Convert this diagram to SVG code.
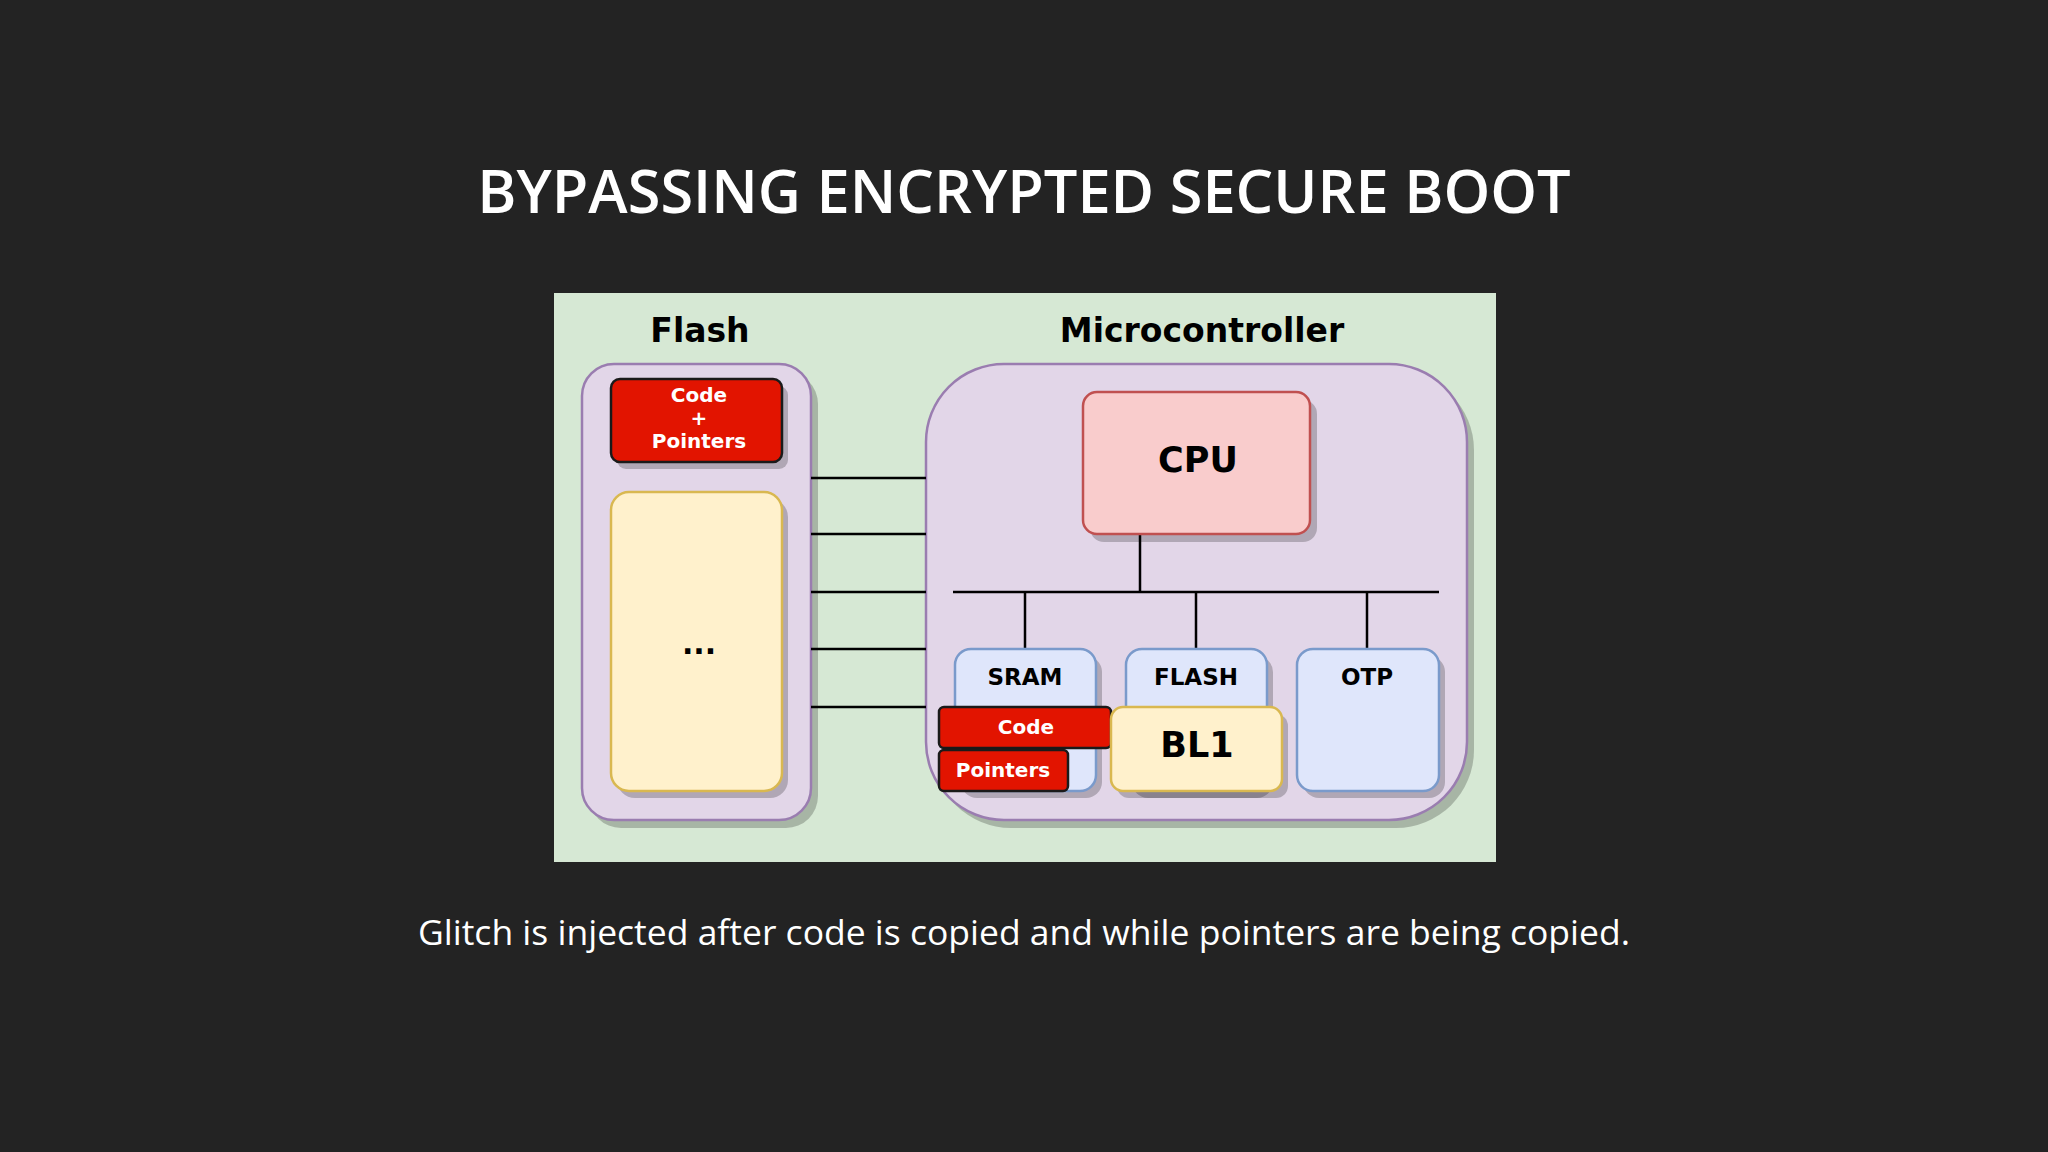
<svg xmlns="http://www.w3.org/2000/svg" width="2048" height="1152" viewBox="0 0 2048 1152">
<style>
.lbl{font-family:"DejaVu Sans",sans-serif;font-weight:bold;text-anchor:middle}
.sh{fill:#000;opacity:0.22}
.ln{stroke:#000;stroke-width:2.5;fill:none}
.red{fill:#e21400;stroke:#1a1a1a;stroke-width:2.5}
.mem{fill:#dfe6fb;stroke:#7a9acb;stroke-width:2.5}
.yel{fill:#fff1cc;stroke:#d9b850;stroke-width:2.5}
</style>
<rect width="2048" height="1152" fill="#232323"/>
<text x="1024" y="213" font-family="Open Sans, sans-serif" font-weight="600" font-size="59.5" fill="#fff" text-anchor="middle">BYPASSING ENCRYPTED SECURE BOOT</text>
<rect x="554" y="293" width="942" height="569" fill="#d6e8d4"/>
<text class="lbl" x="700" y="342" font-size="33">Flash</text>
<text class="lbl" x="1202" y="342" font-size="33">Microcontroller</text>
<g id="flash">
<rect class="sh" x="589" y="372" width="229" height="456" rx="32"/>
<rect x="582" y="364" width="229" height="456" rx="32" fill="#e2d6e8" stroke="#9a7db0" stroke-width="2.5"/>
</g>
<g id="flash-code">
<rect class="sh" x="617" y="386" width="171" height="83" rx="9"/>
<rect class="red" x="611" y="379" width="171" height="83" rx="9"/>
<text class="lbl" x="699" y="402" font-size="20" fill="#fff">Code</text>
<text class="lbl" x="699" y="425" font-size="20" fill="#fff">+</text>
<text class="lbl" x="699" y="448" font-size="20" fill="#fff">Pointers</text>
</g>
<g id="flash-rest">
<rect class="sh" x="617" y="499" width="171" height="299" rx="18"/>
<rect class="yel" x="611" y="492" width="171" height="299" rx="18"/>
<text class="lbl" x="699" y="654" font-size="30">...</text>
</g>
<g id="mcu">
<rect class="sh" x="933" y="372" width="541" height="456" rx="78"/>
<rect x="926" y="364" width="541" height="456" rx="78" fill="#e2d6e8" stroke="#9a7db0" stroke-width="2.5"/>
</g>
<g id="connectors">
<path class="ln" d="M811 478H926M811 534H926M811 592H926M811 649H926M811 707H926"/>
<path class="ln" d="M1140 534V592M953 592H1439M1025 592V649M1196 592V649M1367 592V649"/>
</g>
<g id="cpu">
<rect class="sh" x="1090" y="400" width="227" height="142" rx="14"/>
<rect x="1083" y="392" width="227" height="142" rx="14" fill="#f9cccc" stroke="#c05050" stroke-width="2.5"/>
<text class="lbl" x="1198" y="472" font-size="35">CPU</text>
</g>
<g id="sram">
<rect class="sh" x="961" y="656" width="141" height="142" rx="16"/>
<rect class="mem" x="955" y="649" width="141" height="142" rx="16"/>
<text class="lbl" x="1025" y="685" font-size="23">SRAM</text>
</g>
<g id="flash-mem">
<rect class="sh" x="1132" y="656" width="141" height="142" rx="16"/>
<rect class="mem" x="1126" y="649" width="141" height="142" rx="16"/>
<text class="lbl" x="1196" y="685" font-size="23">FLASH</text>
</g>
<g id="otp">
<rect class="sh" x="1303" y="656" width="142" height="142" rx="16"/>
<rect class="mem" x="1297" y="649" width="142" height="142" rx="16"/>
<text class="lbl" x="1367" y="685" font-size="23">OTP</text>
</g>
<g id="sram-code">
<rect class="red" x="939" y="707" width="172" height="41" rx="5"/>
<text class="lbl" x="1026" y="734" font-size="20" fill="#fff">Code</text>
</g>
<g id="sram-pointers">
<rect class="red" x="939" y="750" width="129" height="41" rx="5"/>
<text class="lbl" x="1003" y="777" font-size="20" fill="#fff">Pointers</text>
</g>
<g id="bl1">
<rect class="sh" x="1117" y="714" width="171" height="84" rx="12"/>
<rect class="yel" x="1111" y="707" width="171" height="84" rx="12"/>
<text class="lbl" x="1197" y="757" font-size="35">BL1</text>
</g>
<text x="1024" y="945" font-family="Open Sans, sans-serif" font-size="35.5" fill="#fff" text-anchor="middle">Glitch is injected after code is copied and while pointers are being copied.</text>
</svg>
